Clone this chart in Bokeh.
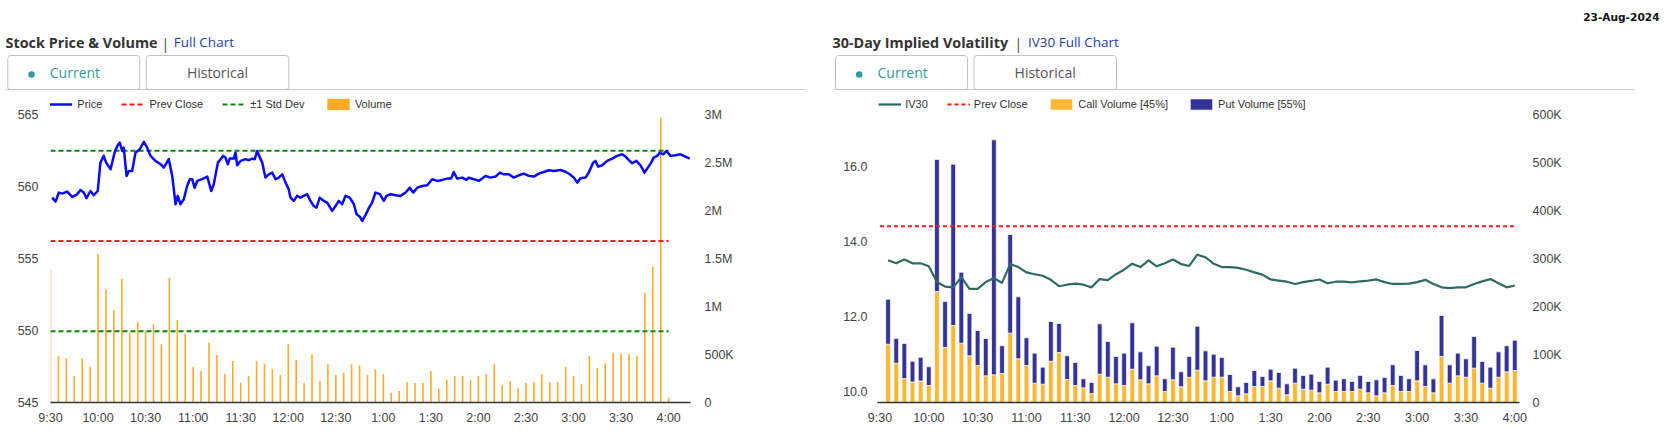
from bokeh.plotting import figure
from bokeh.models import Range1d, LinearAxis, FixedTicker, Legend, LegendItem, ColumnDataSource
from bokeh.layouts import column, row
from bokeh.core.properties import value
from bokeh.embed import file_html
from bokeh.resources import INLINE

# ---------------------------------------------------------------- data
report_date = "23-Aug-2024"
left_title = "Stock Price & Volume"
right_title = "30-Day Implied Volatility"
left_link = "Full Chart"
right_link = "IV30 Full Chart"
tab_labels = ["Current", "Historical"]

time_ticks = [0, 30, 60, 90, 120, 150, 180, 210, 240, 270, 300, 330, 360, 390]
time_tick_labels = ["9:30", "10:00", "10:30", "11:00", "11:30", "12:00", "12:30",
                    "1:00", "1:30", "2:00", "2:30", "3:00", "3:30", "4:00"]

# stock price (minutes after 9:30)
price_minutes = [1.1, 3.2, 5.2, 7.4, 10.5, 13.7, 16.8, 18.9, 21.0, 22.7,
                 25.2, 27.3, 29.8, 31.5, 33.6, 35.1, 37.9, 40.4, 42.1, 43.7,
                 45.2, 46.2, 48.0, 49.4, 51.5, 53.6, 56.3, 58.9, 61.0, 63.1,
                 66.2, 69.4, 71.5, 74.6, 76.8, 78.9, 80.3, 82.0, 84.1, 86.2,
                 87.9, 89.4, 90.9, 92.6, 95.7, 98.9, 101.4, 103.0, 105.6, 107.3,
                 109.0, 110.4, 111.9, 113.1, 115.6, 116.7, 117.8, 119.9, 123.0, 125.1,
                 127.3, 128.9, 130.4, 132.1, 133.6, 135.6, 137.7, 139.9, 142.0, 144.0,
                 146.2, 148.3, 150.3, 151.4, 153.5, 155.6, 157.7, 159.8, 162.0, 164.0,
                 166.1, 167.8, 169.9, 172.4, 174.6, 177.7, 179.8, 181.9, 184.0, 186.1,
                 188.8, 191.4, 193.1, 195.1, 196.7, 198.7, 200.8, 202.9, 205.0, 207.8,
                 210.3, 212.0, 214.5, 217.7, 220.8, 224.0, 226.7, 228.8, 231.4, 234.5,
                 237.7, 240.8, 244.0, 247.1, 250.3, 252.8, 254.4, 256.6, 259.7, 262.5,
                 263.9, 267.1, 270.2, 274.4, 277.6, 280.8, 283.5, 286.0, 289.2, 292.3,
                 295.5, 298.6, 301.8, 304.9, 308.1, 311.2, 314.4, 317.5, 321.8, 324.9,
                 327.6, 330.2, 332.3, 334.4, 337.5, 339.6, 342.4, 343.8, 345.6, 348.1,
                 351.2, 354.4, 357.5, 360.7, 362.8, 364.9, 367.0, 369.7, 372.2, 374.8,
                 376.9, 379.0, 380.6, 382.8, 384.4, 386.6, 388.6, 391.2, 394.3, 397.5,
                 400.6, 403.3]
price_values = [559.23, 558.95, 559.58, 559.51, 559.65, 559.28, 559.46, 559.76, 559.58, 559.19,
                559.69, 559.40, 559.69, 561.66, 562.13, 561.66, 561.20, 562.35, 562.82, 563.05,
                562.47, 562.70, 560.74, 561.08, 561.08, 562.35, 562.59, 563.10, 562.70, 562.13,
                561.78, 561.55, 561.31, 561.90, 560.74, 558.77, 559.35, 558.77, 559.12, 560.04,
                560.51, 560.51, 559.92, 560.39, 560.51, 560.69, 559.69, 560.16, 561.66, 561.90,
                562.13, 562.01, 561.55, 561.94, 561.94, 562.35, 561.48, 561.78, 561.90, 561.83,
                561.94, 561.90, 562.47, 562.01, 561.66, 560.62, 560.85, 560.97, 560.51, 560.62,
                560.85, 560.27, 559.81, 559.23, 559.00, 559.35, 559.23, 559.35, 559.47, 559.00,
                558.65, 558.53, 559.23, 559.00, 558.88, 558.31, 558.65, 559.00, 558.77, 559.35,
                559.23, 558.77, 558.08, 557.91, 557.61, 558.01, 558.50, 558.88, 559.58, 559.47,
                559.00, 559.35, 559.47, 559.40, 559.35, 559.58, 559.92, 559.58, 559.92, 560.04,
                560.09, 560.51, 560.39, 560.46, 560.55, 560.55, 561.01, 560.55, 560.62, 560.46,
                560.62, 560.51, 560.39, 560.74, 560.62, 560.69, 560.97, 560.85, 560.85, 560.62,
                560.78, 560.90, 560.74, 560.69, 560.90, 561.01, 561.13, 561.08, 561.15, 561.03,
                560.85, 560.62, 560.27, 560.58, 560.62, 560.97, 561.66, 561.78, 561.38, 561.48,
                561.78, 561.94, 562.13, 562.24, 562.08, 561.83, 561.62, 561.78, 561.48, 560.97,
                561.31, 561.66, 562.01, 562.13, 562.35, 562.24, 562.47, 562.13, 562.18, 562.24,
                562.08, 561.94]
prev_close_price = 556.22
price_std_dev = 6.27
session_span = [0, 390]

price_ticks = [545, 550, 555, 560, 565]
stock_vol_ticks = [0, 0.5, 1.0, 1.5, 2.0, 2.5, 3.0]
stock_vol_tick_labels = ["0", "500K", "1M", "1.5M", "2M", "2.5M", "3M"]

# stock volume per 5 minutes (millions of shares)
stock_vol_minutes = [0, 5, 10, 15, 20, 25, 30, 35, 40, 45, 50, 55, 60, 65, 70, 75, 80, 85, 90, 95,
                     100, 105, 110, 115, 120, 125, 130, 135, 140, 145, 150, 155, 160, 165, 170, 175,
                     180, 185, 190, 195, 200, 205, 210, 215, 220, 225, 230, 235, 240, 245, 250, 255,
                     260, 265, 270, 275, 280, 285, 290, 295, 300, 305, 310, 315, 320, 325, 330, 335,
                     340, 345, 350, 355, 360, 365, 370, 375, 380, 385, 390]
stock_volume_m = [1.378, 0.485, 0.46, 0.276, 0.46, 0.373, 1.551, 1.18, 0.964, 1.29,
                  0.727, 0.839, 0.745, 0.815, 0.606, 1.30, 0.86, 0.717, 0.373, 0.328,
                  0.623, 0.495, 0.30, 0.432, 0.203, 0.276, 0.432, 0.401, 0.349, 0.287,
                  0.606, 0.446, 0.203, 0.505, 0.224, 0.398, 0.287, 0.311, 0.398, 0.387,
                  0.287, 0.349, 0.297, 0.102, 0.12, 0.214, 0.203, 0.203, 0.325, 0.144,
                  0.238, 0.276, 0.276, 0.238, 0.276, 0.297, 0.398, 0.182, 0.224, 0.151,
                  0.203, 0.214, 0.297, 0.214, 0.214, 0.373, 0.276, 0.19, 0.485, 0.36,
                  0.41, 0.519, 0.505, 0.505, 0.485, 1.144, 1.415, 2.966, 0.05]

# options: IV30 and option volume per 5 minutes (thousands of contracts)
opt_minutes = [5, 10, 15, 20, 25, 30, 35, 40, 45, 50, 55, 60, 65, 70, 75, 80, 85, 90, 95, 100,
               105, 110, 115, 120, 125, 130, 135, 140, 145, 150, 155, 160, 165, 170, 175, 180,
               185, 190, 195, 200, 205, 210, 215, 220, 225, 230, 235, 240, 245, 250, 255, 260,
               265, 270, 275, 280, 285, 290, 295, 300, 305, 310, 315, 320, 325, 330, 335, 340,
               345, 350, 355, 360, 365, 370, 375, 380, 385, 390]
iv30_values = [13.49, 13.41, 13.51, 13.41, 13.41, 13.33, 12.91, 12.79, 12.77, 13.04,
               12.73, 12.73, 12.91, 13.01, 12.89, 13.39, 13.31, 13.17, 13.12, 13.08,
               12.97, 12.80, 12.84, 12.87, 12.84, 12.77, 12.99, 12.96, 13.12, 13.24,
               13.40, 13.31, 13.49, 13.33, 13.41, 13.51, 13.39, 13.34, 13.64, 13.57,
               13.40, 13.31, 13.31, 13.29, 13.24, 13.17, 13.11, 12.98, 12.95, 12.92,
               12.86, 12.91, 12.94, 12.98, 12.88, 12.92, 12.92, 12.90, 12.93, 12.95,
               12.98, 12.91, 12.86, 12.86, 12.87, 12.91, 12.97, 12.86, 12.77, 12.75,
               12.77, 12.77, 12.86, 12.93, 12.99, 12.88, 12.77, 12.82]
call_volume_k = [121.6, 82.0, 50.0, 43.0, 45.0, 35.5, 231.5, 114.7, 160.6, 123.7,
                 97.3, 77.2, 55.6, 57.7, 60.5, 144.6, 91.1, 77.2, 40.3, 38.2,
                 86.2, 104.3, 48.0, 35.5, 30.6, 18.8, 59.1, 52.8, 38.9, 35.5,
                 69.5, 47.3, 38.9, 55.6, 22.9, 47.3, 32.7, 52.8, 67.4, 45.2,
                 52.8, 52.8, 22.9, 13.9, 18.1, 33.4, 33.4, 45.2, 29.9, 16.0,
                 40.3, 27.8, 25.7, 20.2, 38.2, 22.9, 22.9, 22.9, 27.8, 20.2,
                 13.9, 20.2, 35.5, 22.9, 22.9, 45.2, 33.4, 20.2, 95.9, 40.3,
                 55.6, 52.8, 71.6, 40.3, 29.9, 52.8, 64.0, 66.7]
put_volume_k = [93.9, 51.5, 73.0, 43.0, 49.5, 38.9, 275.3, 95.9, 336.4, 148.1,
                88.3, 73.0, 77.9, 490.1, 57.7, 205.8, 129.3, 57.7, 62.6, 35.5,
                82.7, 60.5, 49.3, 47.9, 18.8, 22.9, 105.0, 74.4, 57.0, 67.4,
                96.6, 58.4, 37.6, 61.9, 26.5, 68.1, 31.3, 43.1, 91.8, 62.5,
                48.0, 41.0, 35.5, 18.8, 23.6, 33.3, 20.8, 24.3, 32.7, 22.9,
                31.3, 28.5, 33.4, 23.6, 35.5, 23.7, 26.5, 20.9, 28.5, 23.6,
                33.4, 31.9, 43.1, 33.4, 26.5, 63.2, 45.2, 29.2, 85.5, 38.3,
                47.3, 38.3, 66.0, 45.2, 43.8, 52.9, 54.2, 63.3]
iv_prev_close = 14.40
call_share = 45
put_share = 55

iv_ticks = [10, 12, 14, 16]
iv_tick_labels = ["10.0", "12.0", "14.0", "16.0"]
opt_vol_ticks = [0, 100, 200, 300, 400, 500, 600]
opt_vol_tick_labels = ["0", "100K", "200K", "300K", "400K", "500K", "600K"]

# ---------------------------------------------------------------- style
AX_FONT = "Liberation Sans"
TITLE_FONT = "Open Sans"
TAB_FONT = "Open Sans"
TEAL = "#2f9c9f"
PRICE_BLUE = "#0a0aff"
RED = "#ff1a1a"
GREEN = "#0a870a"
VOL_ORANGE = "#ffab24"
CALL_ORANGE = "#ffb733"
PUT_BLUE = "#333399"
IV_GREEN = "#2e6b66"


def style_axis(ax, standoff):
    ax.major_tick_line_color = None
    ax.minor_tick_line_color = None
    ax.major_tick_in = 0
    ax.major_tick_out = 0
    ax.minor_tick_in = 0
    ax.minor_tick_out = 0
    ax.major_label_standoff = standoff
    ax.major_label_text_font = AX_FONT
    ax.major_label_text_font_size = "12.5px"
    ax.major_label_text_color = "#444444"


def make_legend(items, loc, gw, gh, standoff):
    return Legend(items=items, orientation="horizontal", location=loc,
                  glyph_width=gw, glyph_height=gh, label_height=gh,
                  label_standoff=standoff, spacing=19, padding=0, margin=0,
                  border_line_color=None, background_fill_alpha=0,
                  label_text_font=AX_FONT, label_text_font_size="11px",
                  label_text_color="#333333")


# ---------------------------------------------------------------- header
hdr = figure(width=1665, height=90, x_range=Range1d(0, 1665), y_range=Range1d(90, 0),
             output_backend="svg", toolbar_location=None, title=None,
             x_axis_type=None, y_axis_type=None, min_border=0)
hdr.outline_line_color = None
hdr.background_fill_color = "white"
hdr.border_fill_color = "white"

panel_dx = 827.7
# tabs
hdr.quad(left=[7.3, 145.7, 7.3 + panel_dx, 145.7 + panel_dx],
         right=[139.3, 288.3, 139.3 + panel_dx, 288.3 + panel_dx],
         top=[55, 55, 55, 55], bottom=[89.3, 89.3, 89.3, 89.3],
         fill_color="white", line_color="#c2c2c2", line_width=1, border_radius=3)
hdr.segment(x0=[5, 5 + panel_dx], x1=[806, 806 + panel_dx], y0=[89.3, 89.3], y1=[89.3, 89.3],
            line_color="#b8b8b8", line_width=1)
hdr.scatter(x=[31, 31 + panel_dx], y=[74, 74], size=6.5, fill_color=TEAL, line_color=None)
hdr.text(x=[49.3, 49.3 + panel_dx], y=[72, 72], text=[tab_labels[0], tab_labels[0]],
         text_font=value(TAB_FONT), text_font_size="14px", text_color=TEAL,
         text_align="left", text_baseline="alphabetic")
hdr.text(x=[217, 217 + panel_dx], y=[72, 72], text=[tab_labels[1], tab_labels[1]],
         text_font=value(TAB_FONT), text_font_size="14px", text_color="#555555",
         text_align="center", text_baseline="alphabetic")
# titles
hdr.text(x=[5, 831.9], y=[41.7, 41.7], text=[left_title, right_title],
         text_font=value(TITLE_FONT), text_font_style="bold", text_font_size="14.4px",
         text_color="#333333", text_align="left", text_baseline="alphabetic")
hdr.text(x=[161, 1014], y=[42.7, 42.7], text=["|", "|"],
         text_font=value(TITLE_FONT), text_font_size="14px",
         text_color="#444444", text_align="left", text_baseline="alphabetic")
hdr.text(x=[173.3, 1027.4], y=[41.7, 41.7], text=[left_link, right_link],
         text_font=value(TITLE_FONT), text_font_size="13.5px",
         text_color="#1d3fae", text_align="left", text_baseline="alphabetic")
hdr.text(x=[1659], y=[16], text=[report_date],
         text_font=value("DejaVu Sans"), text_font_style="bold", text_font_size="10.6px",
         text_color="#111111", text_align="right", text_baseline="alphabetic")

# ---------------------------------------------------------------- left chart
y_lo, y_hi = 545, 566.67
left = figure(width=818, height=345, x_range=Range1d(0, 403.8), y_range=Range1d(y_lo, y_hi),
              output_backend="svg", toolbar_location=None, title=None,
              min_border_left=50, min_border_right=128, min_border_top=0, min_border_bottom=33)
left.extra_y_ranges = {"vol": Range1d(0, (y_hi - y_lo) * 0.15)}
left.xgrid.visible = False
left.ygrid.visible = False
left.outline_line_color = None

vol_src = ColumnDataSource(dict(t=stock_vol_minutes, v=stock_volume_m))
r_vol = left.vbar(x="t", top="v", width=1.0, source=vol_src, y_range_name="vol",
                  fill_color=VOL_ORANGE, line_color=None)
r_prev = left.line(session_span, [prev_close_price, prev_close_price], line_color=RED,
                   line_width=2, line_dash="5 3")
r_std_hi = left.line(session_span, [prev_close_price + price_std_dev] * 2, line_color=GREEN,
                     line_width=2, line_dash="5 3")
left.line(session_span, [prev_close_price - price_std_dev] * 2, line_color=GREEN,
          line_width=2, line_dash="5 3")
r_price = left.line(price_minutes, price_values, line_color=PRICE_BLUE, line_width=2.5,
                    line_join="round")

ax = left.xaxis[0]
ax.ticker = FixedTicker(ticks=time_ticks)
ax.major_label_overrides = {t: l for t, l in zip(time_ticks, time_tick_labels)}
style_axis(ax, 8)
ax.axis_line_color = "#333333"
ax.axis_line_width = 1.5

ay = left.yaxis[0]
ay.ticker = FixedTicker(ticks=price_ticks)
ay.major_label_overrides = {t: str(t) for t in price_ticks}
style_axis(ay, 12)
ay.axis_line_color = None

ayr = LinearAxis(y_range_name="vol")
ayr.ticker = FixedTicker(ticks=stock_vol_ticks)
ayr.major_label_overrides = {t: l for t, l in zip(stock_vol_ticks, stock_vol_tick_labels)}
style_axis(ayr, 14)
ayr.axis_line_color = None
left.add_layout(ayr, "right")

left.add_layout(make_legend([LegendItem(label="Price", renderers=[r_price]),
                             LegendItem(label="Prev Close", renderers=[r_prev]),
                             LegendItem(label="\u00b11 Std Dev", renderers=[r_std_hi])],
                            (-0.7, 291.7), 23, 12, 5))
left.add_layout(make_legend([LegendItem(label="Volume", renderers=[r_vol])],
                            (273.9, 290.7), 28, 14, 3))

# ---------------------------------------------------------------- right chart
iv_lo, iv_hi = 9.699, 18.019
right = figure(width=847, height=345, x_range=Range1d(-1.5, 392.9), y_range=Range1d(iv_lo, iv_hi),
               output_backend="svg", toolbar_location=None, title=None,
               min_border_left=59, min_border_right=146, min_border_top=0, min_border_bottom=33)
right.extra_y_ranges = {"ovol": Range1d(0, 650.7)}
right.xgrid.visible = False
right.ygrid.visible = False
right.outline_line_color = None

opt_src = ColumnDataSource(dict(t=opt_minutes, call=call_volume_k, put=put_volume_k))
r_bars = right.vbar_stack(["call", "put"], x="t", width=2.9, source=opt_src, y_range_name="ovol",
                          fill_color=[CALL_ORANGE, PUT_BLUE], line_color="white", line_width=0.7)
r_ivprev = right.line(session_span, [iv_prev_close, iv_prev_close], line_color=RED,
                      line_width=2, line_dash="4 3")
r_iv = right.line(opt_minutes, iv30_values, line_color=IV_GREEN, line_width=2.2, line_join="round")

bx = right.xaxis[0]
bx.ticker = FixedTicker(ticks=time_ticks)
bx.major_label_overrides = {t: l for t, l in zip(time_ticks, time_tick_labels)}
style_axis(bx, 8)
bx.axis_line_color = "#333333"
bx.axis_line_width = 1.5

by = right.yaxis[0]
by.ticker = FixedTicker(ticks=iv_ticks)
by.major_label_overrides = {t: l for t, l in zip(iv_ticks, iv_tick_labels)}
style_axis(by, 10)
by.axis_line_color = None

byr = LinearAxis(y_range_name="ovol")
byr.ticker = FixedTicker(ticks=opt_vol_ticks)
byr.major_label_overrides = {t: l for t, l in zip(opt_vol_ticks, opt_vol_tick_labels)}
style_axis(byr, 13)
byr.axis_line_color = None
right.add_layout(byr, "right")

right.add_layout(make_legend([LegendItem(label="IV30", renderers=[r_iv]),
                              LegendItem(label="Prev Close", renderers=[r_ivprev])],
                             (1.2, 291.7), 23, 12, 4))
right.add_layout(make_legend([LegendItem(label="Call Volume [%d%%]" % call_share, renderers=[r_bars[0]]),
                              LegendItem(label="Put Volume [%d%%]" % put_share, renderers=[r_bars[1]])],
                             (170.2, 290.7), 28, 14, 3))

layout = column(hdr, row(left, right))
open("out.html", "w", encoding="utf-8").write(file_html(layout, INLINE))
